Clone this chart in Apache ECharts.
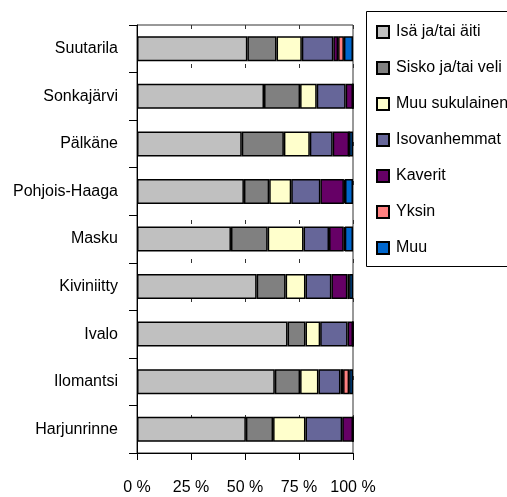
<!DOCTYPE html>
<html>
<head>
<meta charset="utf-8">
<script src="https://cdn.jsdelivr.net/npm/echarts@6/dist/echarts.min.js"></script>
<style>html,body{margin:0;padding:0;background:#fff;}#c{width:507px;height:497px;}</style>
</head>
<body>
<div id="c"></div>
<script>
const categories = ['Suutarila','Sonkajärvi','Pälkäne','Pohjois-Haaga','Masku','Kiviniitty','Ivalo','Ilomantsi','Harjunrinne'];
const seriesNames = ['Isä ja/tai äiti','Sisko ja/tai veli','Muu sukulainen','Isovanhemmat','Kaverit','Yksin','Muu'];
const isaAiti      = [51.1, 58.8, 48.5, 49.5, 43.5, 55.4, 69.7, 63.8, 50.4];
const siskoVeli    = [13.5, 16.7, 19.5, 11.7, 17.0, 13.4,  8.3, 11.7, 12.6];
const muuSukulainen= [11.7,  7.7, 12.0, 10.2, 16.6,  9.2,  6.8,  8.5, 15.0];
const isovanhemmat = [14.6, 13.4, 10.6, 13.5, 11.8, 12.0, 12.7, 10.2, 17.0];
const kaverit      = [ 2.2,  3.4,  7.6, 10.9,  6.8,  7.4,  2.5,  1.2,  5.0];
const yksin        = [ 2.7,  0,    0,    0.5,  0.5,  0.8,  0,    2.8,  0  ];
const muu          = [ 4.2,  0,    1.8,  3.7,  3.8,  1.8,  0,    1.8,  0  ];
const xTicks = [0, 25, 50, 75, 100];
const values = [isaAiti, siskoVeli, muuSukulainen, isovanhemmat, kaverit, yksin, muu];
const colors = ['#C0C0C0','#808080','#FFFFCC','#666699','#660066','#FF8080','#0066CC'];

const FONT = "'Liberation Sans', Arial, sans-serif";
const chart = echarts.init(document.getElementById('c'), null, {renderer:'canvas'});
chart.setOption({
  animation: false,
  textStyle: {fontFamily: FONT},
  graphic: [{
    type: 'rect', left: 366, top: 11, z: -1, silent: true,
    shape: {width: 200, height: 255},
    style: {fill: '#fff', stroke: '#000', lineWidth: 1}
  }],
  grid: {left: 137, top: 25, width: 216, height: 428, show: true, borderColor: '#333', borderWidth: 1, backgroundColor: 'transparent'},
  legend: {
    orient: 'vertical', left: 366, top: 11,
    padding: [13, 0, 10, 10],
    itemWidth: 12, itemHeight: 12, itemGap: 20,
    icon: 'rect',
    textStyle: {fontSize: 16, color: '#000', fontFamily: FONT, lineHeight: 16, padding: [0,0,0,2]},
    data: seriesNames
  },
  xAxis: {
    type: 'value', min: 0, max: 100, interval: 25,
    axisLine: {show: true, lineStyle: {color: '#000', width: 1}},
    axisTick: {show: true, length: 7, lineStyle: {color: '#000'}},
    axisLabel: {formatter: v => xTicks.includes(v) ? v + ' %' : '', fontSize: 16, color: '#000', margin: 27, fontFamily: FONT},
    splitLine: {show: true, lineStyle: {color: '#333', width: 1, type: [4, 35]}}
  },
  yAxis: {
    type: 'category', data: categories, inverse: true,
    axisLine: {show: true, lineStyle: {color: '#000', width: 1}},
    axisTick: {show: true, length: 8, lineStyle: {color: '#000'}},
    axisLabel: {fontSize: 16, color: '#000', margin: 19, fontFamily: FONT}
  },
  series: seriesNames.map((n, i) => ({
    name: n, type: 'bar', stack: 'all', barWidth: 25,
    data: values[i],
    itemStyle: {color: colors[i], borderColor: '#000', borderWidth: 1.5},
    emphasis: {disabled: true}
  }))
});
</script>
</body>
</html>
